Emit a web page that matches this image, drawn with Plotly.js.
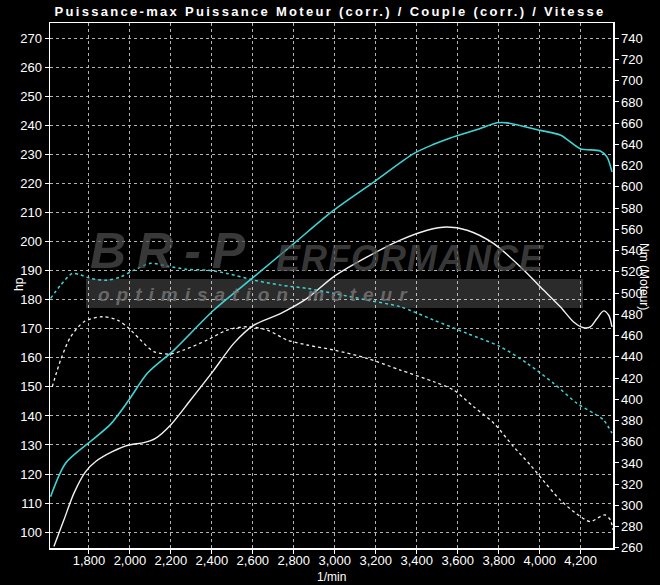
<!DOCTYPE html>
<html>
<head>
<meta charset="utf-8">
<script src="https://cdn.plot.ly/plotly-3.0.1.min.js"></script>
<style>
html,body{margin:0;padding:0;background:#000;}
#chart{width:660px;height:585px;}
.gtitle{letter-spacing:2.3px;}
</style>
</head>
<body>
<div id="chart"></div>
<script>
// ---- Data ----
const titleText = "Puissance-max Puissance Moteur (corr.) / Couple (corr.) / Vitesse";
const xTitle = "1/min";
const yTitle = "hp";
const y2Title = "Nm (Moteur)";

// Cyan solid: power after tuning (hp)
const rpmPowerTuned = [1613,1686,1800,1906,1995,2085,2215,2410,2605,2800,2995,3190,3385,3483,3564,3700,3792,3841,4003,4103,4198,4296,4329,4353];
const hpPowerTuned  = [112.2,123.7,130.8,137.2,145.5,154.7,162.7,176.5,187.9,199.4,210.9,220.6,230.4,233.6,235.8,238.8,241.0,241.0,238.4,236.7,232.1,231.3,229.2,224.1];

// White solid: original power (hp)
const rpmPowerStock = [1629,1678,1727,1784,1833,1914,1995,2068,2125,2199,2296,2410,2507,2605,2735,2865,2995,3158,3320,3451,3548,3646,3776,3906,4003,4101,4166,4215,4247,4280,4312,4337,4353];
const hpPowerStock  = [95.0,104.2,113.4,120.8,124.3,127.7,130.0,130.8,132.3,136.9,145.5,155.8,165.0,171.3,175.3,180.5,188.0,194.8,200.6,204.0,205.1,204.0,199.4,191.4,184.5,177.6,172.4,170.4,170.7,173.6,176.2,174.7,170.7];

// Cyan dashed: torque after tuning (Nm)
const rpmTorqueTuned = [1613,1662,1719,1760,1808,1890,1955,2020,2101,2182,2280,2378,2475,2605,2735,2865,2995,3158,3320,3483,3646,3808,3939,4068,4182,4263,4312,4353];
const nmTorqueTuned  = [495.0,507.5,518.5,517.0,513.8,512.2,515.3,521.6,528.0,525.4,522.3,521.6,518.5,512.2,507.5,504.4,499.7,493.4,487.1,474.6,462.0,449.5,433.8,415.0,396.2,386.8,380.5,368.0];

// White dashed: original torque (Nm)
const rpmTorqueStock = [1621,1662,1711,1776,1865,1939,1995,2052,2117,2199,2263,2378,2475,2573,2670,2768,2865,2995,3158,3320,3483,3580,3678,3776,3873,3955,4028,4101,4174,4247,4296,4320,4345,4358];
const nmTorqueStock  = [411.8,437.0,458.9,473.0,477.7,474.6,466.8,455.8,444.8,442.6,446.4,455.8,465.2,468.3,465.2,455.8,451.1,446.4,438.5,427.5,416.5,408.7,393.0,377.4,355.3,338.0,321.0,305.0,293.0,284.8,289.5,291.0,286.4,277.0];

// ---- Styles ----
const CYAN = "#3fd4d4";
const WHITE = "#f2f2f2";
const FONT = "Liberation Sans, Arial, sans-serif";

const traces = [
  {x: rpmTorqueStock, y: nmTorqueStock, yaxis: "y2", type: "scatter", mode: "lines",
   line: {color: WHITE, width: 1.3, dash: "3px,3px", shape: "spline", smoothing: 0.8}, hoverinfo: "skip"},
  {x: rpmTorqueTuned, y: nmTorqueTuned, yaxis: "y2", type: "scatter", mode: "lines",
   line: {color: CYAN, width: 1.5, dash: "3px,3px", shape: "spline", smoothing: 0.8}, hoverinfo: "skip"},
  {x: rpmPowerStock, y: hpPowerStock, type: "scatter", mode: "lines",
   line: {color: WHITE, width: 1.4, shape: "spline", smoothing: 0.8}, hoverinfo: "skip"},
  {x: rpmPowerTuned, y: hpPowerTuned, type: "scatter", mode: "lines",
   line: {color: CYAN, width: 1.6, shape: "spline", smoothing: 0.8}, hoverinfo: "skip"}
];

// plot-area pixel frame
const L = 50, R = 613, T = 23, B = 548;
const px = v => (v - L) / (R - L);
const py = v => (B - v) / (B - T);

const gridCommon = {
  gridcolor: "rgba(210,210,210,0.85)", gridwidth: 1, griddash: "3px,3px",
  showline: true, linecolor: "#ffffff", linewidth: 1.5,
  ticks: "outside", ticklen: 4, tickcolor: "#ffffff", tickwidth: 1,
  tickfont: {family: FONT, size: 13, color: "#ffffff"},
  zeroline: false, fixedrange: true
};

const layout = {
  width: 660, height: 585,
  paper_bgcolor: "#000000", plot_bgcolor: "#000000",
  margin: {l: L, r: 660 - R, t: T, b: 585 - B, pad: 0},
  showlegend: false,
  title: {text: titleText, x: 0.5, xref: "container", y: 1 - 11/585, yref: "container", yanchor: "middle",
          font: {family: FONT, size: 13, color: "#ffffff", weight: "bold"}},
  xaxis: Object.assign({}, gridCommon, {
    range: [1610, 4358], tick0: 1800, dtick: 200, tickformat: ",d", mirror: true,
    showgrid: true, ticklabelstandoff: -4
  }),
  yaxis: Object.assign({}, gridCommon, {
    range: [94.5, 275.4], tick0: 100, dtick: 10, showgrid: true
  }),
  yaxis2: Object.assign({}, gridCommon, {
    overlaying: "y", side: "right", range: [259.9, 754.4], tick0: 260, dtick: 20, showgrid: false
  }),
  shapes: [
    {type: "rect", xref: "paper", yref: "paper", layer: "below",
     x0: px(86), x1: px(583), y0: py(308), y1: py(279),
     fillcolor: "rgba(58,58,58,0.75)", line: {width: 0}}
  ],
  annotations: [
    {text: xTitle, xref: "paper", yref: "paper", x: px(331), y: py(577), yanchor: "middle", showarrow: false,
     font: {family: FONT, size: 12, color: "#ffffff"}},
    {text: yTitle, xref: "paper", yref: "paper", x: px(10), y: py(284), yanchor: "middle", showarrow: false, textangle: -90,
     font: {family: FONT, size: 12, color: "#ffffff"}},
    {text: y2Title, xref: "paper", yref: "paper", x: px(653), y: py(276), yanchor: "middle", showarrow: false, textangle: 90,
     font: {family: FONT, size: 12, color: "#ffffff"}},
    {text: "<span style='letter-spacing:11px'>BR-P</span>", xref: "paper", yref: "paper", x: px(88), y: py(251), xanchor: "left", yanchor: "middle", showarrow: false,
     font: {family: FONT, size: 50, color: "rgba(80,80,80,0.7)", weight: "bold", style: "italic"}},
    {text: "<span style='letter-spacing:1px'>ERFORMANCE</span>", xref: "paper", yref: "paper", x: px(274), y: py(258), xanchor: "left", yanchor: "middle", showarrow: false,
     font: {family: FONT, size: 36, color: "rgba(80,80,80,0.7)", weight: "bold", style: "italic"}},
    {text: "<span style='letter-spacing:7px'>optimisation moteur</span>", xref: "paper", yref: "paper", x: px(96), y: py(294), xanchor: "left", yanchor: "middle", showarrow: false,
     font: {family: FONT, size: 19, color: "rgba(120,120,120,0.8)", weight: "bold", style: "italic"}}
  ]
};

Plotly.newPlot("chart", traces, layout, {staticPlot: true, displayModeBar: false});
</script>
</body>
</html>
